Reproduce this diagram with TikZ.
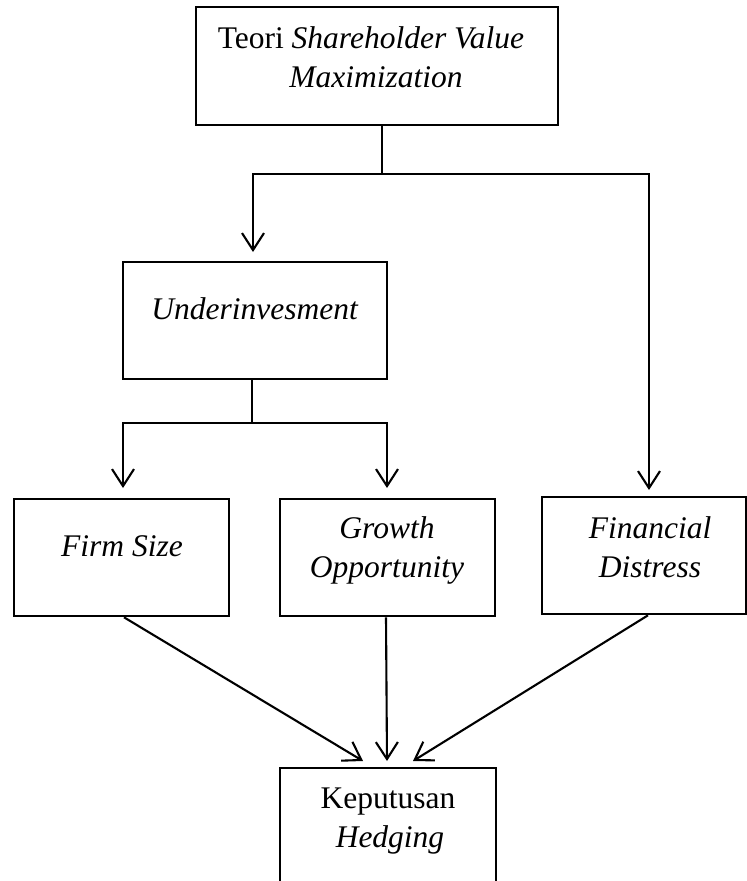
\documentclass[tikz,border=0pt]{standalone}
\usepackage{fontspec}
\setmainfont{Liberation Serif}
\usetikzlibrary{arrows.meta}
\begin{document}
\begin{tikzpicture}[x=1pt,y=-1pt,
  box/.style={draw, line width=2.6pt, rectangle, inner sep=0pt},
  txt/.style={inner sep=0pt, anchor=base, font=\fontsize{31.5}{39}\selectfont},
  conn/.style={line width=2.1pt},
  arr/.style={conn, -{Straight Barb[length=17pt,width=22pt,line width=2.1pt]}}]
\clip (0,0) rectangle (747,881);
\fill[white] (0,0) rectangle (747,881);
% boxes
\node[box, minimum width=362pt, minimum height=118pt] (top) at (377,66) {};
\node[box, minimum width=264pt, minimum height=117pt] (und) at (255,320.5) {};
\node[box, minimum width=215pt, minimum height=117pt] (firm) at (121.5,557.5) {};
\node[box, minimum width=215pt, minimum height=117pt] (grow) at (387.5,557.5) {};
\node[box, minimum width=204pt, minimum height=117pt] (fin) at (644,555.5) {};
\node[box, minimum width=216pt, minimum height=182pt] (kep) at (388,859) {};
% texts
\node[txt] (t1) at (371,48) {Teori \textit{Shareholder Value}};
\node[txt] (t2) at (376,87) {\textit{Maximization}};
\node[txt] (t3) at (255,319) {\textit{Underinvesment}};
\node[txt] (t4) at (122,556) {\textit{Firm Size}};
\node[txt] (t5) at (387,538) {\textit{Growth}};
\node[txt] (t6) at (387,577) {\textit{Opportunity}};
\node[txt] (t7) at (650,538) {\textit{Financial}};
\node[txt] (t8) at (650,577) {\textit{Distress}};
\node[txt] (t9) at (388,808) {Keputusan};
\node[txt] (t10) at (390,847) {\textit{Hedging}};
% junctions and arrow ends
\coordinate (j1) at (382,174);
\coordinate (uT) at (253,252);
\coordinate (fT) at (649,490);
\coordinate (j2) at (252,423);
\coordinate (fsT) at (123,488);
\coordinate (goT) at (387,488);
\coordinate (k1) at (363,761);
\coordinate (k2) at (387,761);
\coordinate (k3) at (413,761);
% connectors
\draw[conn] (top.south -| j1) -- (j1);
\draw[arr] (j1) -| (uT);
\draw[arr] (j1) -| (fT);
\draw[conn] (und.south -| j2) -- (j2);
\draw[arr] (j2) -| (fsT);
\draw[arr] (j2) -| (goT);
\draw[arr] ([xshift=2.5pt]firm.south) -- (k1);
\draw[arr] ([xshift=-1.5pt]grow.south) -- (k2);
\draw[arr] ([xshift=4pt]fin.south) -- (k3);
\end{tikzpicture}
\end{document}
